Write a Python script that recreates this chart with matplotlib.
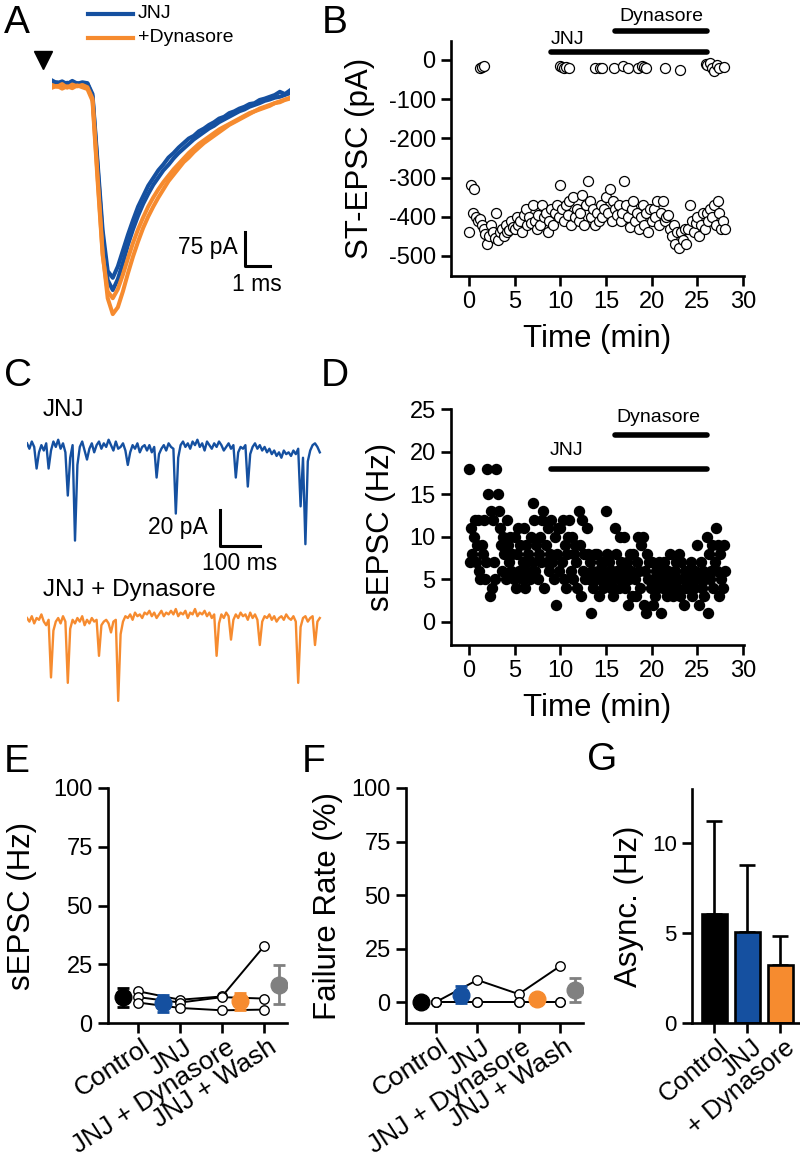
import numpy as np
import matplotlib
matplotlib.use('Agg')
import matplotlib.pyplot as plt
import matplotlib.transforms as mtransforms

plt.rcParams['font.family'] = ['Liberation Sans', 'DejaVu Sans']
plt.rcParams['axes.unicode_minus'] = False

BLUE = '#1550a0'
ORANGE = '#f68b2f'
GRAY = '#808080'

# ---- A: evoked ST-EPSC traces (pA), sampled every 0.2 ms
a_blue1 = [10, 4, 8, 2, 9, 3, 6, 4, -20, -170, -320, -410, -425, -400, -365, -330,
           -298, -268, -245, -222, -205, -188, -175, -160, -150, -138, -128, -118,
           -112, -102, -96, -88, -82, -74, -70, -62, -58, -52, -48, -42, -40, -33,
           -30, -26, -22, -15, -20, -12]
a_blue2 = [2, 6, -2, 5, 0, 4, -1, 3, -25, -180, -335, -430, -452, -428, -392, -352,
           -318, -288, -262, -240, -220, -204, -188, -176, -162, -150, -140, -130,
           -120, -112, -104, -96, -90, -82, -76, -70, -64, -58, -54, -48, -44, -40,
           -35, -32, -28, -26, -22, -18]
a_orange1 = [0, -4, 2, -6, 1, -3, 0, -5, -30, -200, -370, -470, -505, -490, -455, -415,
             -378, -345, -315, -290, -268, -248, -230, -212, -198, -184, -170, -160,
             -148, -138, -128, -120, -112, -104, -96, -88, -82, -76, -70, -64, -58,
             -54, -50, -46, -40, -38, -33, -30]
a_orange2 = [-6, -2, -8, -3, -7, -1, -5, -9, -35, -210, -375, -455, -470, -450, -418,
             -382, -348, -318, -292, -268, -248, -230, -214, -200, -186, -174, -162,
             -150, -140, -130, -122, -114, -106, -98, -92, -86, -80, -74, -68, -62,
             -58, -52, -48, -44, -40, -36, -32, -28]

# ---- B: ST-EPSC amplitude vs time
b_amp = [-440, -320, -390, -330, -400,
         -410, -405, -420, -430, -445,
         -470, -450, -420, -440, -455,
         -390, -460, -440, -430, -450,
         -420, -440, -435, -410, -425,
         -430, -400, -420, -410, -440,
         -395, -380, -420, -400, -415,
         -370, -410, -430, -395, -420,
         -370, -400, -390, -440, -410,
         -380, -420, -390, -370, -400,
         -320, -380, -410, -370, -395,
         -360, -420, -350, -400, -380,
         -410, -390, -345, -420, -370,
         -310, -360, -400, -380, -420,
         -390, -410, -370, -400, -380,
         -350, -390, -330, -410, -360,
         -380, -395, -370, -410, -390,
         -310, -370, -400, -425, -380,
         -360, -410, -390, -430, -400,
         -370, -420, -390, -440, -380,
         -410, -380, -400, -360, -420,
         -390, -360, -410, -400, -395,
         -430, -450, -420, -470, -440,
         -480, -440, -460, -430, -470,
         -430, -370, -410, -440, -415,
         -400, -450, -420, -390, -430,
         -390, -410, -380, -400, -370,
         -420, -360, -390, -430, -410,
         -430]
fail_t = [1.2, 1.4, 1.6, 10.0, 10.2, 10.4, 10.6, 10.9, 13.8, 14.3, 14.6, 15.9, 16.9,
          17.4, 18.5, 18.9, 19.2, 19.4, 21.5, 23.1, 25.9, 26.1, 26.4, 26.6, 26.8,
          27.1, 27.4, 27.9]
fail_a = [-20, -18, -15, -15, -18, -20, -17, -20, -20, -22, -22, -20, -15, -20, -20,
          -15, -18, -20, -20, -25, -10, -12, -8, -20, -28, -12, -20, -18]

# ---- C: spontaneous traces (pA), sampled every 6 ms
c_blue = [2, -1, 3, 0, -12, -3, 1, -2, 2, -12,
          -2, 3, 0, 4, -1, 2, -3, -27, -6, 1,
          -52, -10, 0, 3, -2, -7, -1, 2, -3, 1,
          3, -1, 2, 0, 4, 1, -2, 3, -1, 0,
          2, -2, -10, -3, 1, -1, 2, -3, 0, 1,
          -2, 1, -3, 0, -17, -4, -1, 1, -2, 2,
          0, -1, -37, -6, 1, 3, 0, 2, -1, 3,
          1, 4, 0, 2, -2, 3, 1, -1, 2, 0,
          3, 1, -2, 0, 2, -1, 1, -17, -3, 0,
          -1, 1, -22, -4, 0, 2, -1, 1, -2, 0,
          -3, -1, -4, -2, -5, -3, -6, -2, -4, -3,
          -5, -2, -4, -1, -33, -6, -54, -8, -2, 1,
          2, 0, -3]
c_orange = [0, -2, 1, -3, 0, -1, 2, -2, -4, -1,
            -33, -7, -2, 0, -3, 1, -2, -36, -6, -1,
            -3, 0, -2, 1, -4, -1, -3, 0, -2, -1,
            -21, -4, -2, -1, -3, -8, -2, -1, -46, -9,
            -2, 1, 0, 2, -1, 3, 1, 2, 0, 3,
            2, 4, 1, 3, 0, 2, 4, 1, 3, 2,
            4, 2, 5, 1, 3, 2, 4, 0, 3, 2,
            5, 1, 3, 2, 4, 1, 3, 0, 2, -21,
            -3, 2, 0, 3, 1, -12, -1, 2, 0, 3,
            1, 2, -1, 3, 0, 2, -1, -15, -2, 1,
            0, 2, -1, 1, -2, 0, 1, -1, 2, 0,
            -1, 1, -2, -36, -5, 0, 1, -2, 0, 1,
            -15, -2, 0]

# ---- D: sEPSC rate vs time (Hz)
d_rate = [18, 7, 11, 8, 10, 12, 7, 9,
          12, 6, 5, 9, 8, 12, 5, 7,
          18, 15, 3, 13, 4, 12, 7, 5,
          18, 15, 13, 11, 9, 6, 10, 8,
          5, 12, 9, 7, 10, 6, 8, 5,
          10, 4, 8, 11, 6, 9, 5, 7,
          11, 4, 9, 6, 8, 5, 10, 7,
          14, 12, 6, 9, 5, 8, 10, 7,
          12, 13, 4, 9, 7, 11, 6, 8,
          12, 7, 5, 10, 2, 8, 11, 6,
          11, 7, 12, 5, 9, 4, 8, 10,
          12, 6, 10, 5, 8, 9, 7, 4,
          13, 9, 3, 12, 6, 8, 5, 11,
          8, 5, 7, 1, 6, 4, 8, 5,
          8, 6, 3, 5, 7, 4, 6, 5,
          13, 8, 5, 7, 4, 6, 3, 5,
          11, 8, 6, 4, 10, 7, 5, 6,
          10, 4, 7, 2, 5, 8, 6, 3,
          8, 5, 3, 7, 10, 6, 4, 9,
          10, 2, 6, 1, 8, 5, 7, 4,
          7, 2, 5, 3, 6, 4, 7, 5,
          1, 6, 4, 7, 5, 3, 6, 4,
          8, 4, 5, 3, 6, 7, 4, 5,
          8, 3, 7, 5, 2, 6, 4, 5,
          6, 4, 7, 3, 5, 4, 6, 5,
          9, 2, 5, 7, 4, 6, 3, 5,
          10, 1, 8, 5, 6, 9, 4, 7,
          11, 6, 9, 3, 8, 5, 4, 9,
          6]

# drug application bars (min)
jnj_on, jnj_off = 9, 26
dyn_on, dyn_off = 16, 26

# ---- E / F: paired data per cell + mean +/- sem
conds = ['Control', 'JNJ', 'JNJ + Dynasore', 'JNJ + Wash']
e_cells = [[13.5, 9.9, 11.3, 32.6],
           [11.0, 8.7, 11.0, 10.4],
           [8.7, 6.4, 5.4, 5.7]]
e_mean = [11.0, 8.3, 9.2, 16.2]
e_err = [4.0, 3.5, 3.5, 8.3]
f_cells = [[0, 10.3, 3.7, 16.8],
           [0, 0, 0, 0],
           [0, 0, 0, 0]]
f_mean = [0, 3.4, 1.2, 5.6]
f_err = [1.0, 4.0, 2.0, 5.6]
mean_colors = ['black', BLUE, ORANGE, GRAY]

# ---- G: asynchronous release
g_labels = ['Control', 'JNJ', '+ Dynasore']
g_vals = [6.05, 5.05, 3.2]
g_err = [5.15, 3.75, 1.65]
g_colors = ['black', BLUE, ORANGE]

W, H = 800, 1157
fig = plt.figure(figsize=(8, 11.57), dpi=100)


def px_axes(l, t, r, b):
    return fig.add_axes([l / W, 1 - b / H, (r - l) / W, (b - t) / H])


def style(ax, labelsize=17):
    for s in ['top', 'right']:
        ax.spines[s].set_visible(False)
    for s in ['left', 'bottom']:
        ax.spines[s].set_linewidth(1.9)
    ax.tick_params(width=1.9, length=7, labelsize=labelsize, pad=4)
    ax.patch.set_alpha(0)


# ===== A =====
axA = px_axes(52, 75, 290, 325)
axA.axis('off')
for tr in [a_blue1, a_blue2]:
    axA.plot(np.linspace(0, 9.4, len(tr)), tr, color=BLUE, lw=2.9)
for tr in [a_orange1, a_orange2]:
    axA.plot(np.linspace(0, 9.4, len(tr)), tr, color=ORANGE, lw=2.9)
axA.set_xlim(0, 9.4)
axA.set_ylim(-529, 22)
axA.plot([7.62, 7.62, 8.62], [-325, -400, -400], color='black', lw=2.2, clip_on=False)
axA.text(7.35, -358, '75 pA', ha='right', va='center', fontsize=16.5)
axA.text(8.1, -440, '1 ms', ha='center', va='center', fontsize=16.5)

# ===== B =====
axB = px_axes(451, 41, 744, 276)
style(axB)
axB.plot(np.linspace(0, 28, len(b_amp)), b_amp, 'o', mfc='white', mec='black',
         ms=7.2, mew=0.9)
axB.plot(fail_t, fail_a, 'o', mfc='white', mec='black', ms=7.2, mew=0.9)
axB.set_xlim(-1.97, 30.1)
axB.set_ylim(-551, 48)
axB.set_xticks([0, 5, 10, 15, 20, 25, 30])
axB.set_yticks([0, -100, -200, -300, -400, -500])
axB.set_xlabel('Time (min)', fontsize=22.5, labelpad=8)
axB.set_ylabel('ST-EPSC (pA)', fontsize=22.5, labelpad=10)
axB.plot([jnj_on, jnj_off], [20, 20], color='black', lw=4, solid_capstyle='round', clip_on=False)
axB.plot([dyn_on, dyn_off], [74, 74], color='black', lw=4, solid_capstyle='round', clip_on=False)
axB.text(10.8, 30, 'JNJ', ha='center', va='bottom', fontsize=14)
axB.text(21.1, 90, 'Dynasore', ha='center', va='bottom', fontsize=14)

# ===== C =====
axC1 = px_axes(27, 430, 322, 555)
axC1.axis('off')
axC1.plot(np.linspace(0, 732, len(c_blue)), c_blue, color=BLUE, lw=1.7)
axC1.set_xlim(0, 737.5)
axC1.set_ylim(-60, 9.4)
axC1.plot([482.5, 482.5, 582.5], [-35, -55, -55], color='black', lw=2.2, clip_on=False)
axC1.text(452, -45, '20 pA', ha='right', va='center', fontsize=16.5)
axC1.text(532, -64.5, '100 ms', ha='center', va='center', fontsize=16.5)

axC2 = px_axes(27, 600, 322, 705)
axC2.axis('off')
axC2.plot(np.linspace(0, 732, len(c_orange)), c_orange, color=ORANGE, lw=1.7)
axC2.set_xlim(0, 737.5)
axC2.set_ylim(-48.3, 10)

# ===== D =====
axD = px_axes(451, 409, 744, 645)
style(axD)
axD.plot(np.linspace(0, 28, len(d_rate)), d_rate, 'o', color='black', ms=7.2)
axD.set_xlim(-1.97, 30.1)
axD.set_ylim(-2.7, 25)
axD.set_xticks([0, 5, 10, 15, 20, 25, 30])
axD.set_yticks([0, 5, 10, 15, 20, 25])
axD.set_xlabel('Time (min)', fontsize=22.5, labelpad=8)
axD.set_ylabel('sEPSC (Hz)', fontsize=22.5, labelpad=10)
axD.plot([jnj_on, jnj_off], [18, 18], color='black', lw=4, solid_capstyle='round')
axD.plot([dyn_on, dyn_off], [22, 22], color='black', lw=4, solid_capstyle='round')
axD.text(10.7, 19.1, 'JNJ', ha='center', va='bottom', fontsize=14)
axD.text(20.7, 23.0, 'Dynasore', ha='center', va='bottom', fontsize=14)


# ===== E / F =====
def paired(ax, cells, means, errs, ylim, yticks, ylabel, pad):
    style(ax)
    pos = [1, 2, 3, 4]
    for c in cells:
        ax.plot(pos, c, '-o', color='black', lw=1.4, mfc='white', mec='black',
                ms=6.8, mew=1.0, zorder=3)
    mean_pos = [0.64, 1.6, 3.43, 4.36]
    for x, m, e, col in zip(mean_pos, means, errs, mean_colors):
        ax.errorbar([x], [m], yerr=[e], fmt='o', color=col, ms=12, elinewidth=2,
                    capsize=4, capthick=2, zorder=4)
    ax.set_xlim(0.28, 4.55)
    ax.set_ylim(*ylim)
    ax.set_yticks(yticks)
    ax.set_xticks(pos)
    ax.set_xticklabels(conds, rotation=33, ha='right', va='center',
                       rotation_mode='anchor', fontsize=19)
    off = mtransforms.ScaledTranslation(0.10, -0.07, fig.dpi_scale_trans)
    for lab in ax.get_xticklabels():
        lab.set_transform(lab.get_transform() + off)
    ax.set_ylabel(ylabel, fontsize=22.5, labelpad=pad)


axE = px_axes(108, 788, 287, 1023)
paired(axE, e_cells, e_mean, e_err, (0, 100), [0, 25, 50, 75, 100], 'sEPSC (Hz)', 12)
axF = px_axes(406, 788, 583, 1023)
paired(axF, f_cells, f_mean, f_err, (-9.8, 100), [0, 25, 50, 75, 100], 'Failure Rate (%)', 6)

# ===== G =====
axG = px_axes(692, 789, 800, 1023)
style(axG, labelsize=16)
gpos = [1, 2, 3]
axG.bar(gpos, g_vals, width=0.76, color=g_colors, edgecolor='black', lw=1.9, zorder=2)
axG.errorbar(gpos, g_vals, yerr=[[0, 0, 0], g_err], fmt='none', ecolor='black',
             elinewidth=1.9, capsize=6, capthick=1.9, zorder=1)
axG.set_xlim(0.33, 3.6)
axG.set_ylim(0, 13)
axG.set_yticks([0, 5, 10])
axG.set_xticks(gpos)
axG.set_xticklabels(g_labels, rotation=40, ha='right', va='center',
                    rotation_mode='anchor', fontsize=18.5)
offg = mtransforms.ScaledTranslation(0.12, -0.06, fig.dpi_scale_trans)
for lab in axG.get_xticklabels():
    lab.set_transform(lab.get_transform() + offg)
axG.set_ylabel('Async. (Hz)', fontsize=22.5, labelpad=6)

# ===== overlay: panel letters, legend of A, stimulus arrow =====
ov = fig.add_axes([0, 0, 1, 1])
ov.set_xlim(0, W)
ov.set_ylim(H, 0)
ov.axis('off')
for letter, x, y in [('A', 4, 33), ('B', 322, 33), ('C', 4, 386), ('D', 321, 386),
                     ('E', 4, 772), ('F', 302, 772), ('G', 587, 770)]:
    ov.text(x, y, letter, fontsize=28, ha='left', va='baseline')
ov.plot([88, 133], [14, 14], color=BLUE, lw=3)
ov.plot([88, 133], [38, 38], color=ORANGE, lw=3)
ov.text(138, 14, 'JNJ', fontsize=14, va='center')
ov.text(138, 38, '+Dynasore', fontsize=14, va='center')
ov.plot([43], [60], marker='v', color='black', ms=13)
ov.text(43, 410, 'JNJ', fontsize=17.5, va='center')
ov.text(43, 590, 'JNJ + Dynasore', fontsize=17.5, va='center')

fig.savefig('out.png', dpi=100)
